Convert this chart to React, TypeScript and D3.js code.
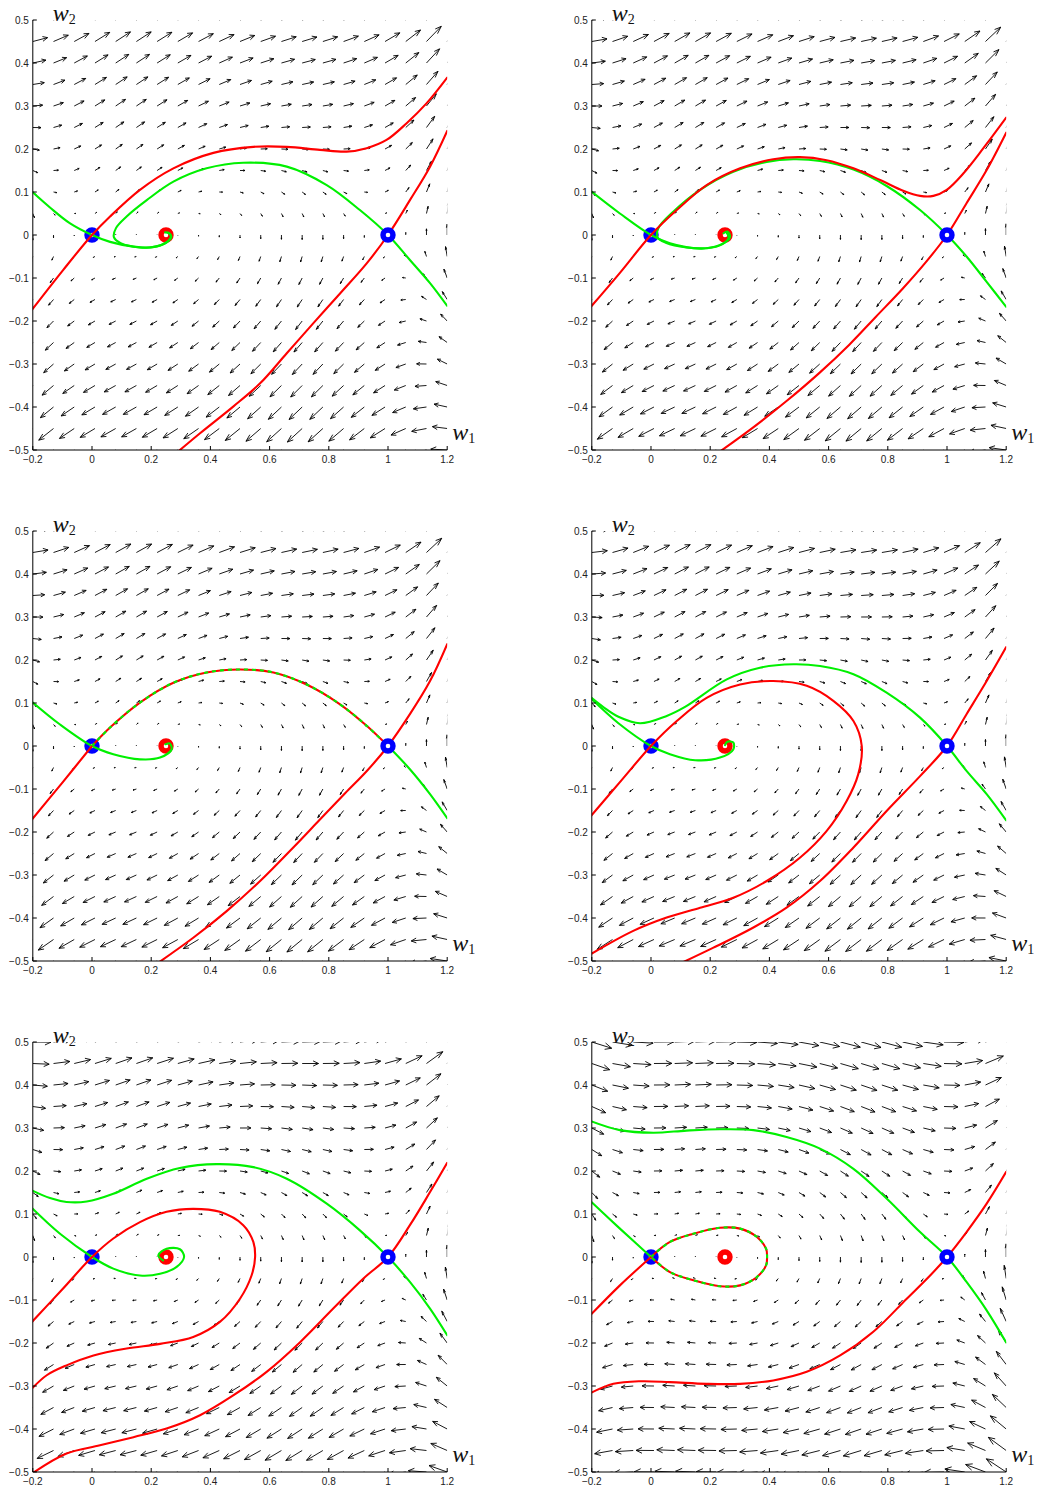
import React from 'react';
import * as d3 from 'd3';

type Pt = [number, number];

// axis ticks
const w1TickValues = [-0.2, 0, 0.2, 0.4, 0.6, 0.8, 1, 1.2];
const w1TickLabels = ['\u22120.2', '0', '0.2', '0.4', '0.6', '0.8', '1', '1.2'];
const w2TickValues = [0.5, 0.4, 0.3, 0.2, 0.1, 0, -0.1, -0.2, -0.3, -0.4, -0.5];
const w2TickLabels = ['0.5', '0.4', '0.3', '0.2', '0.1', '0', '\u22120.1', '\u22120.2', '\u22120.3', '\u22120.4', '\u22120.5'];

// quiver grid (meshgrid -0.2:0.07:1.2, -0.5:0.05:0.5)
const w1Grid = [-0.2, -0.13, -0.06, 0.01, 0.08, 0.15, 0.22, 0.29, 0.36, 0.43, 0.5, 0.57, 0.64, 0.71, 0.78, 0.85, 0.92, 0.99, 1.06, 1.13, 1.2];
const w2Grid = [-0.5, -0.45, -0.4, -0.35, -0.3, -0.25, -0.2, -0.15, -0.1, -0.05, 0, 0.05, 0.1, 0.15, 0.2, 0.25, 0.3, 0.35, 0.4, 0.45, 0.5];

// model parameters
const threshold = 0.25;
const waveSpeeds = [0.42, 0.36, 0.354, 0.32, 0.21, 0];
const saddlePoints = [0, 1];
const focusPoint = 0.25;

// panel 1
const p1Red0: Pt[] = [[-0.203, -0.174], [-0.097, -0.081], [0, 0], [0.061, 0.043], [0.162, 0.105], [0.275, 0.155], [0.41, 0.191], [0.545, 0.205], [0.658, 0.205], [0.77, 0.198], [0.86, 0.194], [0.928, 0.202], [0.995, 0.221], [1.063, 0.26], [1.13, 0.306], [1.2, 0.366]];
const p1Red1: Pt[] = [[0.285, -0.507], [0.365, -0.461], [0.477, -0.399], [0.568, -0.345], [0.658, -0.275], [0.748, -0.205], [0.838, -0.136], [0.928, -0.066], [1, 0], [1.074, 0.081], [1.142, 0.159], [1.2, 0.242]];
const p1Green0: Pt[] = [[-0.203, 0.101], [-0.142, 0.064], [-0.074, 0.027], [0, 0], [0.061, -0.016], [0.14, -0.027], [0.196, -0.029], [0.241, -0.021], [0.266, -0.005], [0.261, 0.004], [0.247, 0.006]];
const p1Green1: Pt[] = [[1.2, -0.165], [1.142, -0.112], [1.074, -0.058], [1, 0], [0.905, 0.058], [0.793, 0.116], [0.658, 0.159], [0.511, 0.168], [0.387, 0.155], [0.275, 0.124], [0.185, 0.081], [0.117, 0.043], [0.081, 0.016], [0.074, -0.005], [0.097, -0.019], [0.162, -0.029], [0.215, -0.027], [0.255, -0.016], [0.268, -0.003], [0.258, 0.005]];

// panel 2
const p2Red0: Pt[] = [[-0.203, -0.167], [-0.105, -0.088], [0, 0], [0.087, 0.058], [0.188, 0.116], [0.301, 0.155], [0.413, 0.176], [0.503, 0.181], [0.593, 0.174], [0.684, 0.155], [0.774, 0.128], [0.852, 0.103], [0.909, 0.091], [0.954, 0.091], [0.999, 0.105], [1.055, 0.143], [1.123, 0.202], [1.2, 0.273]];
const p2Red1: Pt[] = [[0.23, -0.505], [0.35, -0.445], [0.46, -0.385], [0.57, -0.32], [0.67, -0.255], [0.76, -0.19], [0.85, -0.125], [0.93, -0.062], [1, 0], [1.066, 0.074], [1.134, 0.151], [1.2, 0.238]];
const p2Green0: Pt[] = [[-0.203, 0.102], [-0.105, 0.05], [0, 0], [0.064, -0.019], [0.166, -0.031], [0.233, -0.023], [0.267, -0.005], [0.258, 0.008], [0.245, 0.004]];
const p2Green1: Pt[] = [[1.2, -0.167], [1.134, -0.109], [1.066, -0.05], [1, 0], [0.909, 0.058], [0.796, 0.114], [0.684, 0.152], [0.571, 0.172], [0.481, 0.176], [0.391, 0.17], [0.278, 0.147], [0.166, 0.105], [0.075, 0.054], [0.025, 0.016], [0.022, -0.006], [0.05, -0.018], [0.12, -0.029], [0.19, -0.031], [0.24, -0.022], [0.262, -0.006], [0.255, 0.006]];

// panel 3
const p3Red0: Pt[] = [[-0.203, -0.171], [-0.1, -0.085], [0, 0]];
const p3Link: Pt[] = [[0, 0], [0.061, 0.043], [0.162, 0.101], [0.275, 0.147], [0.387, 0.171], [0.5, 0.178], [0.613, 0.171], [0.725, 0.143], [0.838, 0.097], [0.928, 0.047], [1, 0]];
const p3Red1: Pt[] = [[0.22, -0.506], [0.342, -0.446], [0.455, -0.384], [0.568, -0.314], [0.68, -0.236], [0.77, -0.171], [0.855, -0.11], [0.93, -0.057], [1, 0], [1.074, 0.074], [1.142, 0.151], [1.2, 0.237]];
const p3Green0: Pt[] = [[-0.203, 0.103], [-0.108, 0.05], [0, 0], [0.072, -0.019], [0.162, -0.031], [0.23, -0.027], [0.269, -0.008], [0.262, 0.006], [0.248, 0.004]];
const p3Green1: Pt[] = [[1.2, -0.168], [1.142, -0.112], [1.074, -0.054], [1, 0]];

// panel 4
const p4Red0: Pt[] = [[-0.203, -0.163], [-0.1, -0.08], [0, 0], [0.087, 0.058], [0.188, 0.112], [0.301, 0.143], [0.413, 0.151], [0.526, 0.14], [0.616, 0.105], [0.684, 0.058], [0.712, 0], [0.7, -0.066], [0.661, -0.128], [0.593, -0.198], [0.503, -0.26], [0.391, -0.314], [0.278, -0.353], [0.166, -0.376], [0.053, -0.399], [-0.06, -0.43], [-0.203, -0.484]];
const p4Red1: Pt[] = [[0.095, -0.507], [0.211, -0.469], [0.346, -0.422], [0.458, -0.376], [0.571, -0.314], [0.684, -0.236], [0.796, -0.151], [0.909, -0.07], [1, 0], [1.066, 0.074], [1.134, 0.151], [1.2, 0.23]];
const p4Green0: Pt[] = [[-0.203, 0.111], [-0.11, 0.053], [0, 0], [0.064, -0.019], [0.149, -0.033], [0.233, -0.027], [0.278, -0.008], [0.278, 0.008], [0.258, 0.01], [0.25, 0.002]];
const p4Green1: Pt[] = [[1.2, -0.173], [1.134, -0.112], [1.066, -0.058], [1, 0], [0.909, 0.066], [0.796, 0.124], [0.684, 0.167], [0.571, 0.186], [0.481, 0.19], [0.368, 0.182], [0.256, 0.155], [0.115, 0.091], [0.053, 0.07], [-0.037, 0.053], [-0.11, 0.068], [-0.16, 0.09], [-0.203, 0.113]];

// panel 5
const p5Red0: Pt[] = [[-0.203, -0.151], [-0.1, -0.075], [0, 0], [0.072, 0.043], [0.162, 0.081], [0.252, 0.105], [0.342, 0.112], [0.432, 0.105], [0.511, 0.074], [0.545, 0.035], [0.551, 0], [0.539, -0.043], [0.5, -0.097], [0.432, -0.151], [0.342, -0.186], [0.23, -0.202], [0.117, -0.213], [0.005, -0.229], [-0.086, -0.252], [-0.153, -0.275], [-0.203, -0.306]];
const p5Red1: Pt[] = [[-0.21, -0.507], [-0.086, -0.457], [0.027, -0.438], [0.14, -0.419], [0.252, -0.399], [0.365, -0.368], [0.477, -0.322], [0.59, -0.267], [0.703, -0.198], [0.815, -0.12], [0.917, -0.05], [1, 0], [1.074, 0.074], [1.142, 0.151], [1.2, 0.219]];
const p5Green0: Pt[] = [[-0.203, 0.114], [-0.108, 0.054], [0, 0], [0.072, -0.027], [0.162, -0.043], [0.23, -0.039], [0.286, -0.023], [0.311, 0], [0.297, 0.018], [0.252, 0.019], [0.224, 0.004], [0.24, -0.008]];
const p5Green1: Pt[] = [[1.2, -0.182], [1.142, -0.12], [1.074, -0.058], [1, 0], [0.905, 0.062], [0.793, 0.124], [0.658, 0.182], [0.545, 0.209], [0.421, 0.216], [0.297, 0.207], [0.185, 0.182], [0.072, 0.147], [-0.018, 0.129], [-0.086, 0.128], [-0.142, 0.137], [-0.203, 0.155]];

// panel 6
const p6Red0: Pt[] = [[-0.203, -0.134], [-0.105, -0.066], [0, 0]];
const p6Loop: Pt[] = [[0, 0], [0.064, 0.035], [0.143, 0.054], [0.233, 0.068], [0.301, 0.066], [0.357, 0.047], [0.389, 0.019], [0.392, 0], [0.389, -0.019], [0.357, -0.047], [0.301, -0.066], [0.233, -0.068], [0.143, -0.054], [0.064, -0.035], [0, 0]];
const p6Red1: Pt[] = [[-0.203, -0.316], [-0.127, -0.295], [-0.037, -0.289], [0.064, -0.291], [0.188, -0.295], [0.301, -0.295], [0.413, -0.287], [0.526, -0.267], [0.639, -0.229], [0.751, -0.174], [0.864, -0.097], [0.943, -0.043], [1, 0], [1.066, 0.058], [1.134, 0.124], [1.2, 0.198]];
const p6Green0: Pt[] = [[-0.203, 0.129], [-0.105, 0.066], [0, 0]];
const p6Green1: Pt[] = [[1.2, -0.199], [1.134, -0.124], [1.066, -0.058], [1, 0], [0.909, 0.058], [0.796, 0.136], [0.684, 0.205], [0.571, 0.252], [0.458, 0.279], [0.346, 0.295], [0.233, 0.297], [0.12, 0.294], [0.008, 0.289], [-0.105, 0.295], [-0.203, 0.316]];

interface PanelSpec {
  speed: number;
  red: Pt[][];
  green: Pt[][];
  dashed: Pt[][];
}

const panels: PanelSpec[] = [
  { speed: waveSpeeds[0], red: [p1Red0, p1Red1], green: [p1Green0, p1Green1], dashed: [] },
  { speed: waveSpeeds[1], red: [p2Red0, p2Red1], green: [p2Green0, p2Green1], dashed: [] },
  { speed: waveSpeeds[2], red: [p3Red0, p3Red1], green: [p3Green0, p3Green1], dashed: [p3Link] },
  { speed: waveSpeeds[3], red: [p4Red0, p4Red1], green: [p4Green0, p4Green1], dashed: [] },
  { speed: waveSpeeds[4], red: [p5Red0, p5Red1], green: [p5Green0, p5Green1], dashed: [] },
  { speed: waveSpeeds[5], red: [p6Red0, p6Red1], green: [p6Green0, p6Green1], dashed: [p6Loop] },
];

const colLeft = [32.8, 591.8];
const rowTop = [20, 531, 1042];
const plotW = 414.4;
const plotH = 430;

const RED = '#ff0000';
const GREEN = '#00f000';
const BLUE = '#0000ff';

const cubic = (w: number) => w * (1 - w) * (w - threshold);

// matlab-style quiver with autoscale and open arrow heads
const quiverPath = (speed: number, x: d3.ScaleLinear<number, number>, y: d3.ScaleLinear<number, number>) => {
  const delx = (w1Grid[w1Grid.length - 1] - w1Grid[0]) / w1Grid.length;
  const dely = (w2Grid[w2Grid.length - 1] - w2Grid[0]) / w2Grid.length;
  const del = delx * delx + dely * dely;
  const vecs = w2Grid.flatMap(b => w1Grid.map(a => ({ a, b, u: b, v: speed * b - cubic(a) })));
  const maxLen = d3.max(vecs, d => Math.sqrt((d.u * d.u + d.v * d.v) / del)) || 1;
  const k = 0.9 / maxLen;
  const alpha = 0.33;
  const beta = 0.33;
  const f = (n: number) => n.toFixed(2);
  return vecs.map(d => {
    const u = d.u * k;
    const v = d.v * k;
    const ex = d.a + u;
    const ey = d.b + v;
    const h1x = ex - alpha * (u + beta * v);
    const h1y = ey - alpha * (v - beta * u);
    const h2x = ex - alpha * (u - beta * v);
    const h2y = ey - alpha * (v + beta * u);
    return `M${f(x(d.a))},${f(y(d.b))}L${f(x(ex))},${f(y(ey))}` +
      `M${f(x(h1x))},${f(y(h1y))}L${f(x(ex))},${f(y(ey))}L${f(x(h2x))},${f(y(h2y))}`;
  }).join('');
};

const Marker = ({ cx, cy, color }: { cx: number; cy: number; color: string }) => (
  <circle cx={cx} cy={cy} r={5} fill="#fff" stroke={color} strokeWidth={5.4} />
);

const Panel = ({ spec, left, top, idx }: { spec: PanelSpec; left: number; top: number; idx: number }) => {
  const x = d3.scaleLinear().domain([-0.2, 1.2]).range([0, plotW]);
  const y = d3.scaleLinear().domain([-0.5, 0.5]).range([plotH, 0]);
  const line = d3.line<Pt>()
    .x(d => x(d[0]))
    .y(d => y(d[1]))
    .curve(d3.curveCatmullRom.alpha(0.5));
  const clipId = `plot-clip-${idx}`;

  return (
    <g transform={`translate(${left},${top})`}>
      <defs>
        <clipPath id={clipId}>
          <rect x={0} y={0} width={plotW} height={plotH} />
        </clipPath>
      </defs>

      <g clipPath={`url(#${clipId})`}>
        <path d={quiverPath(spec.speed, x, y)} fill="none" stroke="#000" strokeWidth={0.9} />
      </g>

      <Marker cx={x(focusPoint)} cy={y(0)} color={RED} />
      <Marker cx={x(saddlePoints[0])} cy={y(0)} color={BLUE} />

      <g clipPath={`url(#${clipId})`} fill="none" strokeWidth={2.1} strokeLinejoin="round" strokeLinecap="round">
        {spec.green.map((c, i) => <path key={`g${i}`} d={line(c) || ''} stroke={GREEN} />)}
        {spec.red.map((c, i) => <path key={`r${i}`} d={line(c) || ''} stroke={RED} />)}
        {spec.dashed.map((c, i) => (
          <g key={`d${i}`}>
            <path d={line(c) || ''} stroke={RED} />
            <path d={line(c) || ''} stroke={GREEN} strokeDasharray="4 4" strokeLinecap="butt" />
          </g>
        ))}
      </g>

      <Marker cx={x(saddlePoints[1])} cy={y(0)} color={BLUE} />

      {/* axes */}
      <g stroke="#000" strokeWidth={1} fill="none">
        <line x1={0} x2={0} y1={0} y2={plotH} />
        <line x1={0} x2={plotW} y1={plotH} y2={plotH} />
        {w2TickValues.map(v => <line key={`yt${v}`} x1={0} x2={4} y1={y(v)} y2={y(v)} />)}
        {w1TickValues.map(v => <line key={`xt${v}`} x1={x(v)} x2={x(v)} y1={plotH} y2={plotH - 4} />)}
      </g>
      <g fontFamily="'Liberation Sans', Arial, sans-serif" fontSize={10} fill="#222">
        {w2TickValues.map((v, i) => (
          <text key={`yl${v}`} x={-4} y={y(v) + 3.6} textAnchor="end">{w2TickLabels[i]}</text>
        ))}
        {w1TickValues.map((v, i) => (
          <text key={`xl${v}`} x={x(v)} y={plotH + 13} textAnchor="middle">{w1TickLabels[i]}</text>
        ))}
      </g>
      <g fontFamily="'Liberation Serif', 'Times New Roman', serif" fill="#111">
        <text x={20} y={1} fontSize={24}>
          <tspan fontStyle="italic">w</tspan>
          <tspan fontSize={14} dy={3}>2</tspan>
        </text>
        <text x={plotW + 5} y={plotH - 10} fontSize={24}>
          <tspan fontStyle="italic">w</tspan>
          <tspan fontSize={14} dy={3}>1</tspan>
        </text>
      </g>
    </g>
  );
};

export default function App() {
  return (
    <svg
      width={1038}
      height={1490}
      style={{ position: 'absolute', left: 0, top: 0, background: '#fff' }}
    >
      {panels.map((spec, i) => (
        <Panel
          key={i}
          spec={spec}
          idx={i}
          left={colLeft[i % 2]}
          top={rowTop[Math.floor(i / 2)]}
        />
      ))}
    </svg>
  );
}
